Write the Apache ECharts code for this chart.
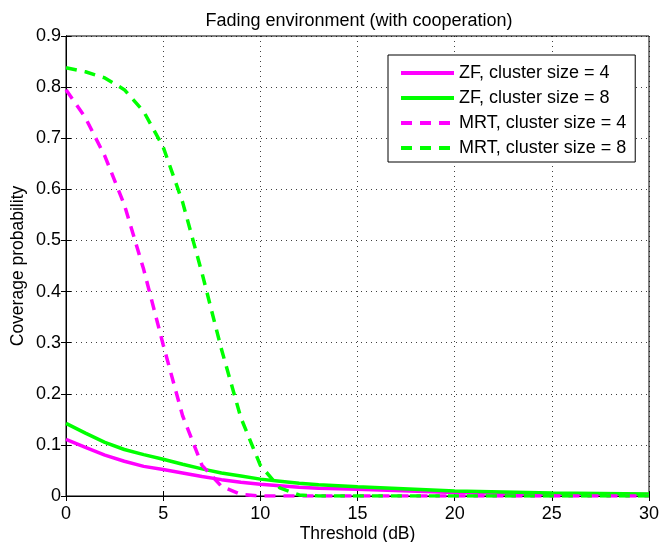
<!DOCTYPE html>
<html><head><meta charset="utf-8">
<script src="https://cdn.jsdelivr.net/npm/echarts@6/dist/echarts.min.js"></script>
<style>html,body{margin:0;padding:0;background:#fff}#c{width:660px;height:542px}</style>
</head><body><div id="c"></div>
<script>
const thresholds = [0,1,2,3,4,5,6,7,8,9,10,11,12,13,14,15,20,25,30];
const zf4  = [0.111,0.095,0.080,0.068,0.058,0.052,0.045,0.038,0.032,0.027,0.023,0.020,0.017,0.015,0.014,0.013,0.007,0.004,0.003];
const zf8  = [0.142,0.123,0.105,0.091,0.081,0.072,0.062,0.053,0.045,0.039,0.033,0.029,0.025,0.022,0.020,0.018,0.010,0.006,0.004];
const mrt4 = [0.795,0.740,0.665,0.570,0.443,0.296,0.157,0.060,0.019,0.003,0,0,0,0,0,0,0,0,0];
const mrt8 = [0.838,0.830,0.818,0.795,0.752,0.683,0.575,0.436,0.287,0.153,0.060,0.016,0.002,0,0,0,0,0,0];
const names = ['ZF, cluster size = 4','ZF, cluster size = 8','MRT, cluster size = 4','MRT, cluster size = 8'];
const xTicks = [0,5,10,15,20,25,30];
const yTicks = [0,0.1,0.2,0.3,0.4,0.5,0.6,0.7,0.8,0.9];

const pair = arr => thresholds.map((x,i)=>[x,arr[i]]);
const FONT = 'Liberation Sans, Arial, Helvetica, sans-serif';
const DASH = [11,8];
const mk = (name, data, color, dashed) => ({
  name, type:'line', data: pair(data), symbol:'none', smooth:false,
  lineStyle:{color, width:3.5, type: dashed ? DASH : 'solid'},
  itemStyle:{color}, z: dashed ? 3 : 2
});
const chart = echarts.init(document.getElementById('c'));
const gridLine = {show:true, lineStyle:{color:'#000', type:[1,4], width:1, opacity:0.75}};
chart.setOption({
  animation:false,
  backgroundColor:'#fff',
  title:{text:'Fading environment (with cooperation)', left:354, top:7, textAlign:'center',
    textStyle:{fontFamily:FONT, fontSize:18, fontWeight:'normal', color:'#000'}},
  legend:{orient:'vertical', left:388, top:55, padding:[8,9,4,11], itemGap:5,
    itemWidth:53, itemHeight:20, backgroundColor:'#fff', borderColor:'#000', borderWidth:1,
    itemStyle:{opacity:0}, lineStyle:{width:4},
    textStyle:{fontFamily:FONT, fontSize:18, lineHeight:20, color:'#000'},
    data:names},
  grid:{left:66, right:11, top:36, bottom:46, show:true, borderColor:'#000', borderWidth:1,
    containLabel:false, outerBoundsMode:'none'},
  xAxis:[{type:'value', min:0, max:30, interval:5,
    name:'Threshold (dB)', nameLocation:'middle', nameGap:29, nameMoveOverlap:false,
    nameTextStyle:{fontFamily:FONT, fontSize:17.5, color:'#000'},
    axisLine:{show:true, lineStyle:{color:'#000'}},
    axisTick:{show:true, inside:true, length:5, lineStyle:{color:'#000'}},
    axisLabel:{fontFamily:FONT, fontSize:18, color:'#000', margin:9},
    splitLine:gridLine},
   {type:'value', min:0, max:30, interval:5, position:'top',
    axisLine:{show:true, lineStyle:{color:'#000'}},
    axisTick:{show:true, inside:true, length:5, lineStyle:{color:'#000'}},
    axisLabel:{show:false}, splitLine:{show:false}}],
  yAxis:[{type:'value', min:0, max:0.9, interval:0.1,
    name:'Coverage probability', nameLocation:'middle', nameGap:39, nameMoveOverlap:false,
    nameTextStyle:{fontFamily:FONT, fontSize:17.5, color:'#000'},
    axisLine:{show:true, lineStyle:{color:'#000'}},
    axisTick:{show:true, inside:true, length:5, lineStyle:{color:'#000'}},
    axisLabel:{fontFamily:FONT, fontSize:18, color:'#000', margin:5,
      formatter:v=>{const t=yTicks.find(q=>Math.abs(q-v)<1e-9); return t===0?'0':String(+t.toFixed(1));}},
    splitLine:gridLine},
   {type:'value', min:0, max:0.9, interval:0.1, position:'right',
    axisLine:{show:true, lineStyle:{color:'#000'}},
    axisTick:{show:true, inside:true, length:5, lineStyle:{color:'#000'}},
    axisLabel:{show:false}, splitLine:{show:false}}],
  series:[
    mk(names[0], zf4, '#ff00ff', false),
    mk(names[1], zf8, '#00ff00', false),
    mk(names[2], mrt4, '#ff00ff', true),
    mk(names[3], mrt8, '#00ff00', true)
  ]
});
</script></body></html>
